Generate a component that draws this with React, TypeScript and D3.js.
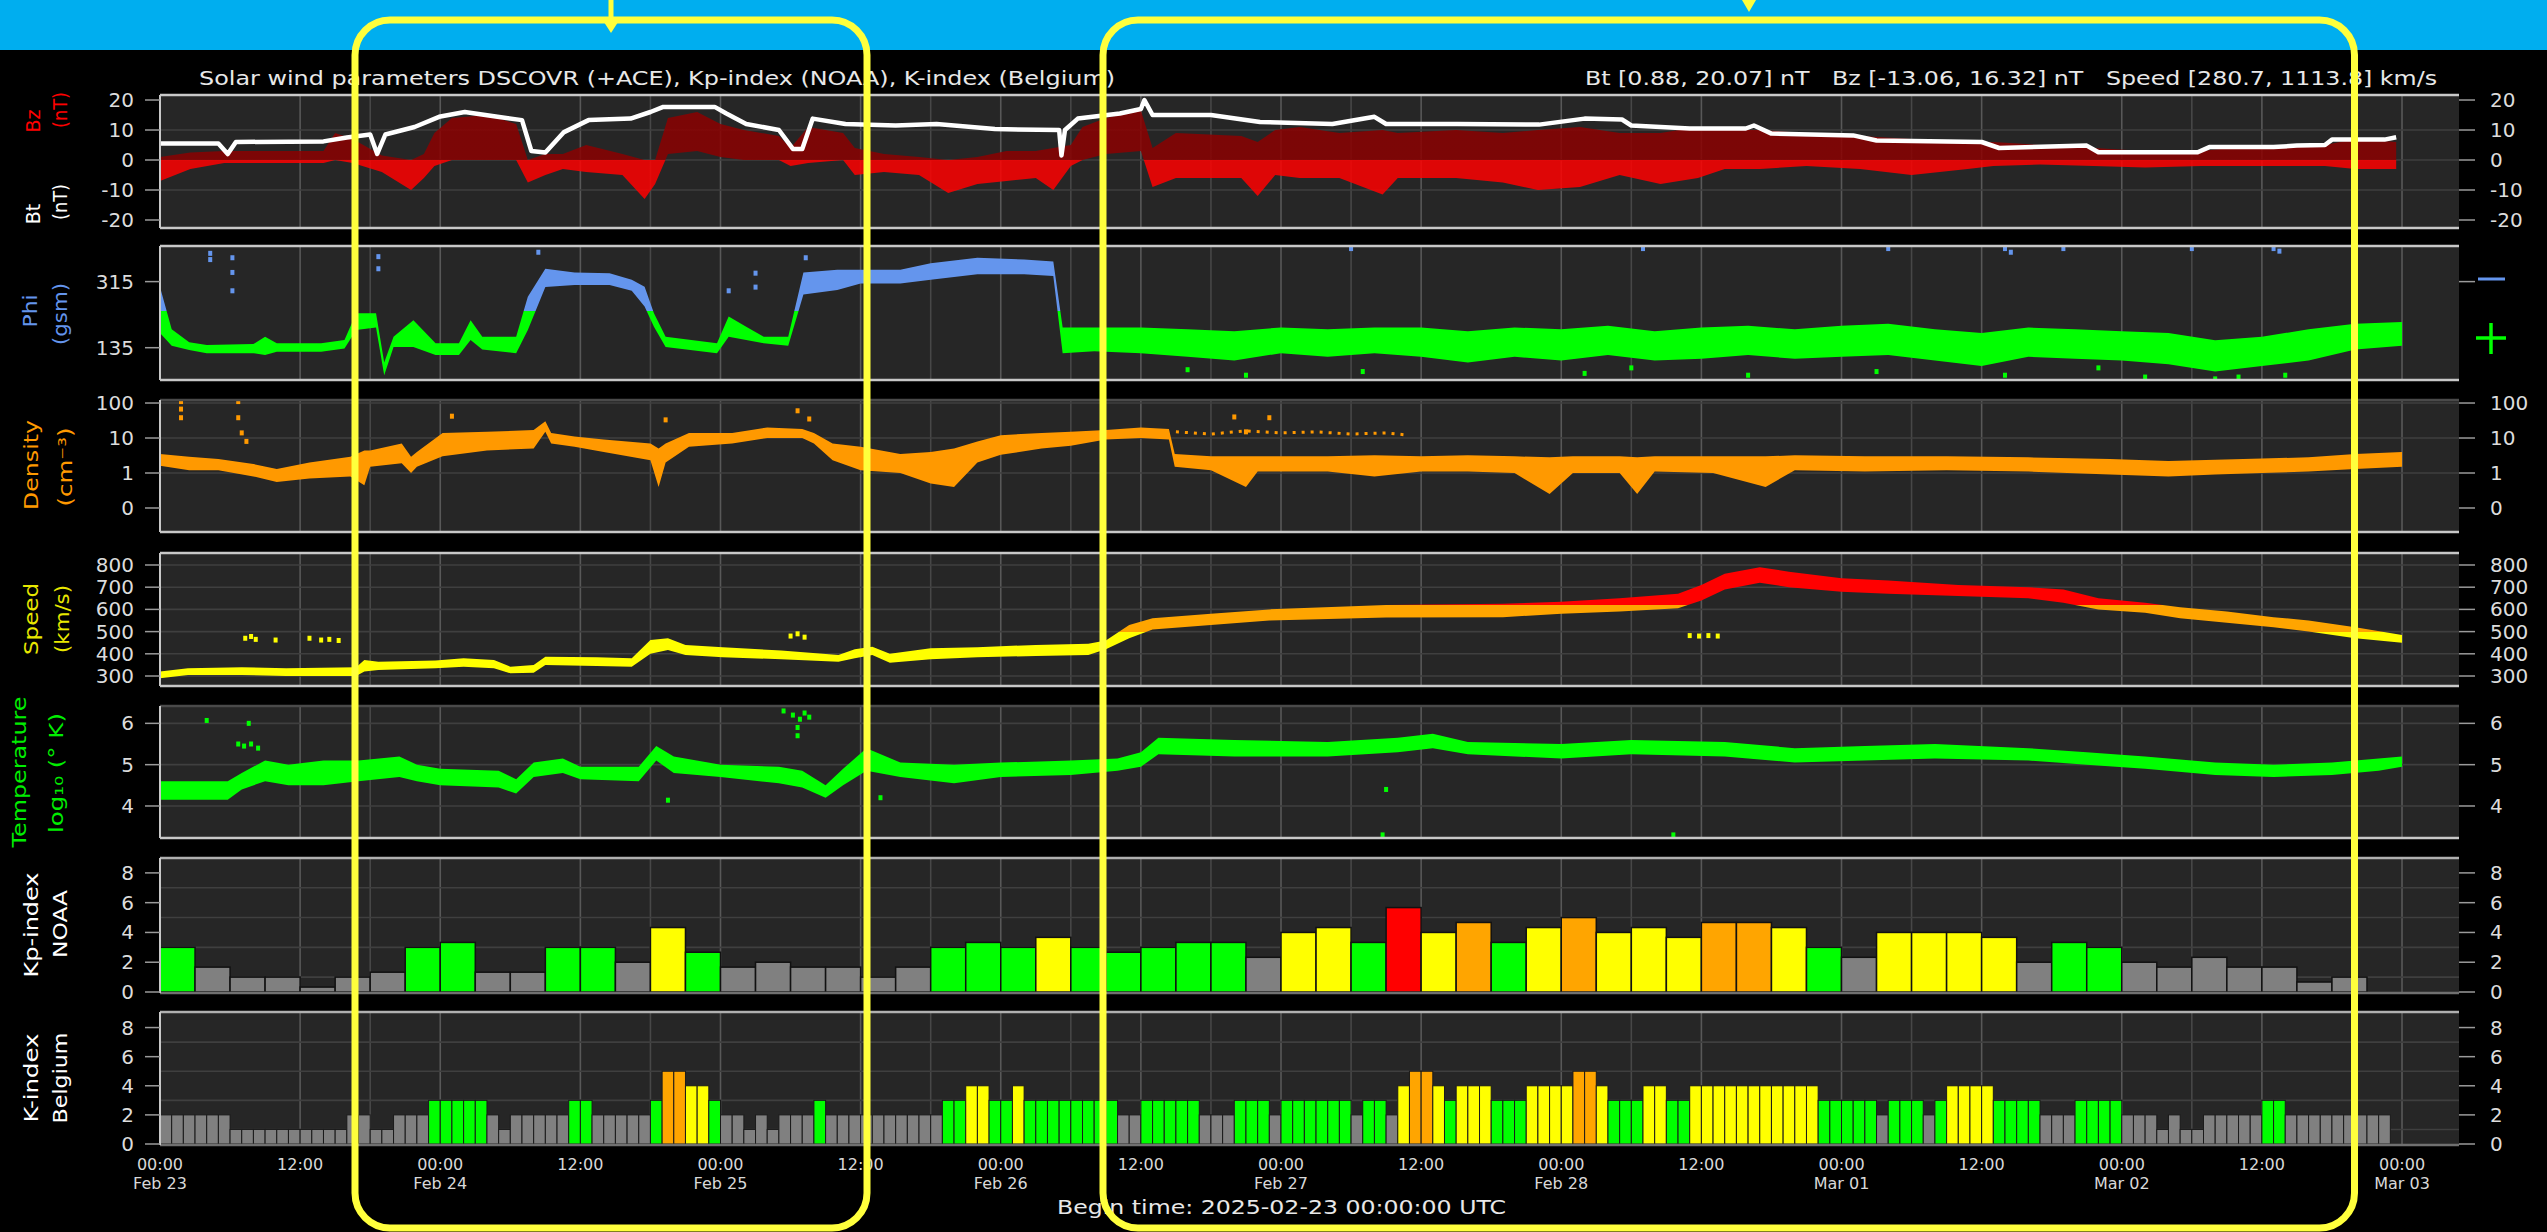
import React, { useEffect } from 'react';
import * as d3 from 'd3';

// ---------------- DATA (hours since 2025-02-23 00:00 UTC) ----------------
const BT_H = [0,5,5.8,6.5,14,16,18,18.6,19.3,21.8,23.9,26.1,28.9,31,31.8,33,34.6,36.7,40.3,42,43.1,47.5,48.5,50.2,53,54.2,55,55.9,58.7,63,66.5,71.5,77,77.2,77.5,78.6,82.2,84,84.3,85,90,94.2,100.4,104,105,111.1,118.1,122,125.2,126,131,135.8,136.5,138,145,147,156,157.5,165,166,174.5,175.5,181,183,185.4,186,190.5,191.5];
const BT_V = [5.5,5.5,2,6,6.2,7.5,8.5,2,8.5,11,14.4,16,14.4,13.3,3,2.5,9.3,13.3,13.8,16,17.7,17.7,15.5,12,10,3.7,3.7,13.8,12,11.5,12,10.3,10,1.5,10,13.8,15.5,17,20,15,15,12.7,12,14.4,12,12,11.8,13.8,13.5,11.5,10.5,10.5,11.5,8.8,8.2,6.5,6,4,4.8,2.6,2.6,4.3,4.3,4.8,5,6.8,6.8,7.6];

const BZ_H = [0,2.6,5.5,14,15,16.5,19,21.5,22.6,23.5,25,28,30.5,31.5,33,34.5,36.5,39.6,41.5,42.4,43.5,46,48,50,53,54,55.5,58.5,59.5,62,65,67.5,70,72.5,75,76.5,78,79,81,84,85,87,92.6,94,95.5,97.6,101,104.7,106,111,115,118,121.6,125,128.5,131.7,134,137,141,145.6,150,154.8,157,161,165.6,170,174.8,180,185.4,188,191.5];
const BZ_HI = [1,2.5,3,3,9,7,1.5,0,2,9,14,15,12,0,2,2,5,2,0,0,14,16,12,10,8,4,11,9,4,2,1,0,1,3,3,4,5,11,14,16.5,4,9,8,6,10,11,9,10,9,10,9,10,11,9,9,11,10,10,9,8,7,6,6,5,4,3,3,5,5,7,6];
const BZ_LO = [-7,-3,-1,-1,0,-1,-4,-10,-6,-2,0,0,0,-7.5,-5,-3,-4,-5,-13,-8,2,3,1,0,0,-2,-1,0,-5,-4,-5,-11,-8,-7,-6,-10,-2,0,2,3,-9,-6,-6,-12,-5,-6,-6,-11.5,-6,-6,-7.5,-10,-9,-5,-8,-6,-3,-3,-2,-3,-5,-3,-2,-1.5,-2,-2.5,-2,-2,-2,-3,-3];

const PHI_H = [0,1,2.5,4,8,9,10,13.8,15.8,16.8,18.5,19.2,20,21.7,23.6,25.6,26.6,27.6,30.5,31.5,33,35.5,38.5,40.4,41.5,42.3,43.3,47.7,48.7,50.2,51.7,53.8,55.1,58,60,63.4,66,70,74,76.5,77.3,80,84,88,92,96,100,104,108,112,116,120,124,128,132,136,140,144,148,152,156,160,164,168,172,176,180,184,188,192];
const PHI_LO = [175,140,129,120,120,115,124,124,133,183,190,60,137,137,115,115,156,130,120,183,300,306,306,290,247,192,137,120,165,156,147,140,280,292,310,310,320,335,335,330,120,125,120,110,100,120,110,120,110,95,110,100,115,100,105,115,105,110,115,100,85,110,105,100,90,70,85,100,130,140];
const PHI_HI = [300,185,150,142,145,165,147,147,156,229,229,95,165,210,147,147,210,165,165,274,350,340,338,320,301,229,165,147,220,192,165,165,340,347,347,347,365,380,375,370,190,190,190,185,180,190,185,190,190,180,190,185,195,180,190,195,185,195,200,185,175,190,185,180,175,155,165,185,200,205];
// isolated phi points
const PHI_DOT_H = [4.3,4.3,6.2,6.2,6.2,18.7,18.7,32.4,55.3,51,51,48.7,102,127,148,158,158.5,163,174,181,181.5,88,93,103,122,126,136,147,158,166,170,176,178,182];
const PHI_DOT_V = [392,375,380,340,290,383,350,395,380,338,300,290,405,405,405,405,395,405,405,405,398,75,60,70,65,80,60,70,60,80,55,50,55,60];

const DENS_H = [0,2.5,5,8,10,12.8,16.3,17.5,18,20.7,21.5,22,24.2,28,32,33,33.5,35.5,38,42,42.7,43.3,45.3,49,52,55,56,57.6,60,63.4,66,68,70,72,75.5,78,81,84,86.4,86.9,90,93,94,100,104,108,112,116,119,121,125,126.5,128,133,137.5,140,146,153,160,167,172,176,180,184,188,192];
const DENS_LO = [1.6,1.2,1.2,0.8,0.55,0.7,0.8,0.45,1.5,1.9,1,1.5,3,4.4,5,15,7,5.6,4,2.3,0.4,2,5.6,7,10,10,7,2.3,1.2,1,0.5,0.4,2,3.3,5,6,9,10,9,1.5,1.2,0.4,1.1,1.1,0.8,1.1,1.1,1,0.25,1,1,0.25,1.1,1,0.4,1.2,1.1,1.2,1.1,0.9,0.8,0.9,1,1.1,1.3,1.5];
const DENS_HI = [3.5,2.9,2.5,1.8,1.3,2,2.9,4.4,4.4,7,2.9,4,14,15,17,30,14,11,9,7,5,7,14,14,20,18,14,7,5.6,3.5,4,5,8,12,14,15,17,20,18,3.5,3,3,3,3,3.2,3,3.2,3,2.8,3,3,2.8,3,3,3,3.2,3,3,2.8,2.5,2.2,2.4,2.6,2.8,3.5,4];
// sparse upper density points (ACE) Feb 26-27
const DENS_UP_H = [87,90,93,96,99,102,105,107];
const DENS_UP = [15,13,16,14,15,13,14,12];
const DENS_DOT_H = [1.8,1.8,1.8,6.7,6.7,7.0,7.4,25,43.3,54.6,55.6,92,93,95];
const DENS_DOT_V = [110,67,38,110,38,14,8,42,33,60,35,40,15,38];

const SPEED_H = [0,2.4,7,10.8,16.8,17.5,18.7,23.6,26,28.6,30,32,33,37.4,40.4,42,43.5,45,48.2,53.2,58.1,59.5,61,62.5,66,70,75,79.5,81,83,85,90,95,105,115,120,125,130,132,134,137,139.5,144,148,154,160,163,166,170,173,177,181,184,188,192];
const SPEED_LO = [290,305,305,300,300,320,327,335,342,335,312,315,350,345,342,400,417,395,385,375,364,380,395,360,375,385,390,395,420,470,510,530,550,564,565,580,590,605,640,690,720,700,680,670,660,650,630,600,585,560,540,520,500,470,450];
const SPEED_HI = [320,335,340,335,340,372,364,370,380,372,342,350,387,385,380,462,470,440,430,415,395,420,432,400,425,430,440,445,460,530,560,580,600,620,625,635,650,670,710,760,790,770,740,730,710,700,690,650,630,610,590,565,550,520,485];
const SPEED_DOT_H = [7.3,7.8,8.2,9.9,12.8,13.8,14.5,15.3,54.0,54.6,55.2,131,131.8,132.6,133.4];
const SPEED_DOT_V = [470,478,465,462,470,462,465,460,480,490,475,482,480,482,480];

const TEMP_H = [0,5.8,7,9,11,14,17,20.5,22,24,29,30.5,32,34.5,36,41,42.5,44,48,53,55,57,58.5,60.5,63.4,68,72,78,82,84,85.5,92,100,106,109,112,120,126,134,140,146,152,160,165,170,176,181,186,190,192];
const TEMP_LO = [4.15,4.15,4.4,4.6,4.5,4.5,4.6,4.7,4.6,4.5,4.45,4.3,4.7,4.8,4.65,4.6,5.1,4.8,4.7,4.55,4.45,4.2,4.5,4.85,4.7,4.55,4.7,4.75,4.85,4.95,5.25,5.2,5.2,5.3,5.4,5.25,5.15,5.25,5.2,5.05,5.1,5.15,5.1,5.0,4.9,4.75,4.7,4.75,4.85,4.95];
const TEMP_HI = [4.6,4.6,4.8,5.1,5.0,5.1,5.1,5.2,5.0,4.9,4.85,4.65,5.05,5.15,4.95,4.95,5.45,5.2,5.0,4.95,4.85,4.5,4.9,5.4,5.05,5.0,5.05,5.1,5.15,5.3,5.65,5.6,5.55,5.65,5.75,5.55,5.5,5.6,5.55,5.4,5.45,5.5,5.4,5.3,5.2,5.05,5.0,5.05,5.15,5.2];
const TEMP_DOT_H = [4.0,7.6,6.7,7.2,7.8,8.4,53.4,54.2,54.8,55.2,55.6,54.6,54.6,43.5,61.7,104.7,129.6,105];
const TEMP_DOT_V = [6.07,6.0,5.5,5.45,5.5,5.4,6.3,6.2,6.1,6.25,6.15,5.9,5.7,4.14,4.2,3.3,3.3,4.4];

// Kp (NOAA), 3-hourly from Feb 23 00:00
const KP = [3,1.67,1,1,0.33,1,1.33,3,3.33,1.33,1.33,3,3,2,4.33,2.67,1.67,2,1.67,1.67,1,1.67,3,3.33,3,3.67,3,2.67,3,3.33,3.33,2.33,4,4.33,3.33,5.67,4,4.67,3.33,4.33,5,4,4.33,3.67,4.67,4.67,4.33,3,2.33,4,4,4,3.67,2,3.33,3,2,1.67,2.33,1.67,1.67,0.67,1,0];
// K-index (Belgium), hourly from Feb 23 00:00
const K_BEL = [
  2,2,2,2,2,2,1,1,1,1,1,1,1,1,1,1,2,2,1,1,2,2,2,3,
  3,3,3,3,2,1,2,2,2,2,2,3,3,2,2,2,2,2,3,5,5,4,4,3,
  2,2,1,2,1,2,2,2,3,2,2,2,2,2,2,2,2,2,2,3,3,4,4,3,
  3,4,3,3,3,3,3,3,3,3,2,2,3,3,3,3,3,2,2,2,3,3,3,2,
  3,3,3,3,3,3,2,3,3,2,4,5,5,4,3,4,4,4,3,3,3,4,4,4,
  4,5,5,4,3,3,3,4,4,3,3,4,4,4,4,4,4,4,4,4,4,4,3,3,
  3,3,3,2,3,3,3,2,3,4,4,4,4,3,3,3,3,2,2,2,3,3,3,3,
  2,2,2,1,2,1,1,2,2,2,2,2,3,3,2,2,2,2,2,2,2,2,2
];

const GRID_HOURS = [12,18,24,36,42,48,60,66,72,78,84,90,96,102,108,120,126,132,144,150,156,168,174,180,192];
const XLABEL_HOURS = d3.range(0, 193, 12);

const BZ_TICKS = [20, 10, 0, -10, -20];
const PHI_TICKS = [315, 135];
const DENS_TICKS = [100, 10, 1, 0.1];
const DENS_LABELS = ['100', '10', '1', '0'];
const SPEED_TICKS = [800, 700, 600, 500, 400, 300];
const TEMP_TICKS = [6, 5, 4];
const K_TICKS = [8, 6, 4, 2, 0];
const K_MINOR = [1, 3, 5, 7];

const TITLE = 'Solar wind parameters DSCOVR (+ACE), Kp-index (NOAA), K-index (Belgium)';
const STATS = 'Bt [0.88, 20.07] nT   Bz [-13.06, 16.32] nT   Speed [280.7, 1113.8] km/s';
const BEGIN = 'Begin time: 2025-02-23 00:00:00 UTC';

// ---------------- LAYOUT ----------------
const W = 2547, H = 1232;
const T0 = Date.UTC(2025, 1, 23);
const HOUR = 3600 * 1000;
const tAt = (h: number) => new Date(T0 + h * HOUR);
const XL = 160, XR = 2459;
const FONT = '"DejaVu Sans", Verdana, sans-serif';

const P = {
  bz: { top: 95, bottom: 228, topCol: '#c8c8c8' },
  phi: { top: 246, bottom: 380, topCol: '#c8c8c8' },
  dens: { top: 400, bottom: 532, topCol: '#4a4a4a' },
  speed: { top: 553, bottom: 686, topCol: '#c8c8c8' },
  temp: { top: 706, bottom: 838, topCol: '#4a4a4a' },
  kp: { top: 858, bottom: 993, topCol: '#b0b0b0' },
  k: { top: 1012, bottom: 1145, topCol: '#b0b0b0' },
};

const x = d3.scaleUtc().domain([tAt(0), tAt(196.88)]).range([XL, XR]);
const yBz = d3.scaleLinear().domain([-22.67, 21.67]).range([228, 95]);
const yPhi = d3.scaleLinear().domain([47, 412]).range([380, 246]);
const yDens = d3.scaleLog().domain([0.0206, 122]).range([532, 400]);
const ySpeed = d3.scaleLinear().domain([255, 854]).range([686, 553]);
const yTemp = d3.scaleLinear().domain([3.225, 6.42]).range([838, 706]);
const yKp = d3.scaleLinear().domain([0, 9]).range([992, 858]);
const yK = d3.scaleLinear().domain([0, 9]).range([1144, 1013]);

const kpColor = (v: number) => v < 2.5 ? '#808080' : v < 3.5 ? '#00ff00' : v < 4.5 ? '#ffff00' : v < 5.5 ? '#ffa500' : '#ff0000';
const kColor = (v: number) => v <= 2 ? '#808080' : v === 3 ? '#00ff00' : v === 4 ? '#ffff00' : v === 5 ? '#ffa500' : '#ff0000';

function band(hours: number[], lo: number[], hi: number[], y: (v: number) => number) {
  return d3.area<number>()
    .x((h) => x(tAt(h)))
    .y0((_, i) => y(lo[i]))
    .y1((_, i) => y(hi[i]))(hours) || '';
}
function line(hours: number[], v: number[], y: (v: number) => number) {
  return d3.line<number>().x((h) => x(tAt(h))).y((_, i) => y(v[i]))(hours) || '';
}
function Dots({ hours, vals, y, fill }: { hours: number[]; vals: number[]; y: (v: number) => number; fill: string }) {
  return (
    <g fill={fill}>
      {hours.map((h, i) => (
        <rect key={i} x={x(tAt(h)) - 2} y={y(vals[i]) - 2.5} width={4} height={5} />
      ))}
    </g>
  );
}

function Frame({ p, hLines }: { p: any; hLines: number[] }) {
  return (
    <g>
      <rect x={XL} y={p.top} width={XR - XL} height={p.bottom - p.top} fill="#262626" />
      {GRID_HOURS.map((h) => (
        <line key={h} x1={x(tAt(h))} x2={x(tAt(h))} y1={p.top} y2={p.bottom}
          stroke={h % 12 === 0 ? '#585858' : '#474747'} strokeWidth={1.6} />
      ))}
      {hLines.map((yy, i) => (
        <line key={'h' + i} x1={XL} x2={XR} y1={yy} y2={yy} stroke="#3f3f3f" strokeWidth={1.6} />
      ))}
    </g>
  );
}
function Border({ p, bottomCol = '#c8c8c8' }: { p: any; bottomCol?: string }) {
  return (
    <g>
      <line x1={XL} x2={XR} y1={p.top} y2={p.top} stroke={p.topCol} strokeWidth={2.5} />
      <line x1={XL} x2={XR} y1={p.bottom} y2={p.bottom} stroke={bottomCol} strokeWidth={2.5} />
      <line x1={XL} x2={XL} y1={p.top} y2={p.bottom} stroke="#c8c8c8" strokeWidth={2} />
    </g>
  );
}
function Ticks({ ys, labels, left = true, right = true }:
  { ys: number[]; labels: string[]; left?: boolean; right?: boolean }) {
  return (
    <g fontFamily={FONT} fontSize={20} fill="#dcdcdc">
      {ys.map((yy, i) => (
        <g key={i}>
          {left && <line x1={145} x2={XL} y1={yy} y2={yy} stroke="#9a9a9a" strokeWidth={1.5} />}
          {left && <text x={134} y={yy} textAnchor="end" dominantBaseline="central">{labels[i]}</text>}
          {right && <line x1={XR} x2={2475} y1={yy} y2={yy} stroke="#9a9a9a" strokeWidth={1.5} />}
          {right && <text x={2490} y={yy} textAnchor="start" dominantBaseline="central">{labels[i]}</text>}
        </g>
      ))}
    </g>
  );
}
function Grad({ id, top, bottom, stops }: { id: string; top: number; bottom: number; stops: [number, string][] }) {
  return (
    <linearGradient id={id} gradientUnits="userSpaceOnUse" x1={0} x2={0} y1={top} y2={bottom}>
      {stops.map(([o, c], i) => <stop key={i} offset={Math.max(0, Math.min(1, o))} stopColor={c} />)}
    </linearGradient>
  );
}
const frac = (p: any, yy: number) => (yy - p.top) / (p.bottom - p.top);

const SIDE_LABELS = [
  { t: 'Bz', x: 33, y: 121, c: '#ff0000' },
  { t: '(nT)', x: 60, y: 110, c: '#ff0000', len: 36 },
  { t: 'Bt', x: 33, y: 214, c: '#ffffff' },
  { t: '(nT)', x: 60, y: 202, c: '#ffffff', len: 36 },
  { t: 'Phi', x: 30, y: 311, c: '#6495ed', len: 33 },
  { t: '(gsm)', x: 60, y: 314, c: '#6495ed', len: 62 },
  { t: 'Density', x: 31, y: 465, c: '#ff9900', len: 90 },
  { t: '(cm⁻³)', x: 65, y: 467, c: '#ff9900', len: 79 },
  { t: 'Speed', x: 31, y: 619, c: '#e8e800', len: 72 },
  { t: '(km/s)', x: 62, y: 619, c: '#e8e800', len: 68 },
  { t: 'Temperature', x: 19, y: 772, c: '#00ee00', len: 151 },
  { t: 'log₁₀ (° K)', x: 56, y: 773, c: '#00ee00', len: 120 },
  { t: 'Kp-index', x: 31, y: 925, c: '#ffffff', len: 105 },
  { t: 'NOAA', x: 60, y: 924, c: '#ffffff', len: 68 },
  { t: 'K-index', x: 31, y: 1078, c: '#ffffff', len: 89 },
  { t: 'Belgium', x: 60, y: 1078, c: '#ffffff', len: 91 },
];

export default function App() {
  useEffect(() => {
    document.body.style.margin = '0';
    document.body.style.background = '#000';
  }, []);
  const fmtDate = d3.utcFormat('%b %d');

  return (
    <svg width={W} height={H} style={{ display: 'block', position: 'absolute', left: 0, top: 0 }}
      fontFamily={FONT}>
      <defs>
        <Grad id="gBz" top={P.bz.top} bottom={P.bz.bottom}
          stops={[[0, '#8b0000'], [frac(P.bz, yBz(0)), '#8b0000'], [frac(P.bz, yBz(0)), '#ff0000'], [1, '#ff0000']]} />
        <Grad id="gPhi" top={P.phi.top} bottom={P.phi.bottom}
          stops={[[0, '#6495ed'], [frac(P.phi, yPhi(235)), '#6495ed'], [frac(P.phi, yPhi(235)), '#00ff00'], [1, '#00ff00']]} />
        <Grad id="gSpeed" top={P.speed.top} bottom={P.speed.bottom}
          stops={[[0, '#ff0000'], [frac(P.speed, ySpeed(620)), '#ff0000'], [frac(P.speed, ySpeed(620)), '#ffa500'],
            [frac(P.speed, ySpeed(500)), '#ffa500'], [frac(P.speed, ySpeed(500)), '#ffff00'], [1, '#ffff00']]} />
        {Object.entries(P).map(([k, p]) => (
          <clipPath key={k} id={'clip-' + k}>
            <rect x={XL} y={p.top} width={XR - XL} height={p.bottom - p.top} />
          </clipPath>
        ))}
      </defs>

      <rect x={0} y={0} width={W} height={H} fill="#000" />
      <rect x={0} y={0} width={W} height={50} fill="#00aeef" />

      <text x={199} y={85} fontSize={19} fill="#e8e8e8" textLength={916} lengthAdjust="spacingAndGlyphs">{TITLE}</text>
      <text x={1585} y={85} fontSize={19} fill="#e8e8e8" textLength={852} lengthAdjust="spacingAndGlyphs" style={{ whiteSpace: 'pre' }}>{STATS}</text>

      {/* Bz / Bt */}
      <Frame p={P.bz} hLines={[10, 0, -10].map(yBz)} />
      <g clipPath="url(#clip-bz)">
        <path d={band(BZ_H, BZ_LO, BZ_HI, yBz)} fill="url(#gBz)" opacity={0.85} />
        <path d={line(BT_H, BT_V, yBz)} fill="none" stroke="#ffffff" strokeWidth={4.5} strokeLinejoin="round" />
      </g>
      <Border p={P.bz} />
      <Ticks ys={BZ_TICKS.map(yBz)} labels={BZ_TICKS.map(String)} />

      {/* Phi */}
      <Frame p={P.phi} hLines={[]} />
      <g clipPath="url(#clip-phi)">
        <path d={band(PHI_H, PHI_LO, PHI_HI, yPhi)} fill="url(#gPhi)" />
        <Dots hours={PHI_DOT_H} vals={PHI_DOT_V} y={yPhi} fill="url(#gPhi)" />
      </g>
      <Border p={P.phi} />
      <Ticks ys={PHI_TICKS.map(yPhi)} labels={PHI_TICKS.map(String)} right={false} />
      <line x1={XR} x2={2475} y1={yPhi(315)} y2={yPhi(315)} stroke="#9a9a9a" strokeWidth={1.5} />
      <line x1={2478} x2={2505} y1={279} y2={279} stroke="#6495ed" strokeWidth={3} />
      <line x1={2476} x2={2506} y1={338} y2={338} stroke="#00ff00" strokeWidth={3.5} />
      <line x1={2491} x2={2491} y1={323} y2={354} stroke="#00ff00" strokeWidth={3.5} />

      {/* Density */}
      <Frame p={P.dens} hLines={[100, 10, 1].map(yDens)} />
      <g clipPath="url(#clip-dens)">
        <path d={band(DENS_H, DENS_LO, DENS_HI, yDens)} fill="#ff9900" />
        <path d={line(DENS_UP_H, DENS_UP, yDens)} fill="none" stroke="#ff9900" strokeWidth={3} strokeDasharray="3 6" />
        <Dots hours={DENS_DOT_H} vals={DENS_DOT_V} y={yDens} fill="#ff9900" />
      </g>
      <Border p={P.dens} />
      <Ticks ys={DENS_TICKS.map(yDens)} labels={DENS_LABELS} />

      {/* Speed */}
      <Frame p={P.speed} hLines={SPEED_TICKS.map(ySpeed)} />
      <g clipPath="url(#clip-speed)">
        <path d={band(SPEED_H, SPEED_LO, SPEED_HI, ySpeed)} fill="url(#gSpeed)" />
        <Dots hours={SPEED_DOT_H} vals={SPEED_DOT_V} y={ySpeed} fill="#ffff00" />
      </g>
      <Border p={P.speed} />
      <Ticks ys={SPEED_TICKS.map(ySpeed)} labels={SPEED_TICKS.map(String)} />

      {/* Temperature */}
      <Frame p={P.temp} hLines={TEMP_TICKS.map(yTemp)} />
      <g clipPath="url(#clip-temp)">
        <path d={band(TEMP_H, TEMP_LO, TEMP_HI, yTemp)} fill="#00ff00" />
        <Dots hours={TEMP_DOT_H} vals={TEMP_DOT_V} y={yTemp} fill="#00ff00" />
      </g>
      <Border p={P.temp} />
      <Ticks ys={TEMP_TICKS.map(yTemp)} labels={TEMP_TICKS.map(String)} />

      {/* Kp */}
      <Frame p={P.kp} hLines={K_MINOR.map(yKp)} />
      <g clipPath="url(#clip-kp)">
        {KP.map((v, i) => (
          <rect key={i} x={x(tAt(i * 3))} y={yKp(v)} width={x(tAt(i * 3 + 3)) - x(tAt(i * 3))}
            height={Math.max(0, yKp(0) - yKp(v))} fill={v === 0 ? '#1a1a1a' : kpColor(v)} stroke="#111" strokeWidth={1.5} />
        ))}
      </g>
      <Border p={P.kp} bottomCol="#707070" />
      <Ticks ys={K_TICKS.map(yKp)} labels={K_TICKS.map(String)} />

      {/* K Belgium */}
      <Frame p={P.k} hLines={K_MINOR.map(yK)} />
      <g clipPath="url(#clip-k)">
        {K_BEL.map((v, i) => (
          <rect key={i} x={x(tAt(i))} y={yK(v)} width={x(tAt(i + 1)) - x(tAt(i))}
            height={yK(0) - yK(v)} fill={kColor(v)} stroke="#1a1a1a" strokeWidth={1} />
        ))}
      </g>
      <Border p={P.k} bottomCol="#707070" />
      <Ticks ys={K_TICKS.map(yK)} labels={K_TICKS.map(String)} />

      {SIDE_LABELS.map((l, i) => (
        <text key={i} transform={`translate(${l.x},${l.y}) rotate(-90)`} textAnchor="middle"
          dominantBaseline="central" fontSize={19} fill={l.c}
          {...(l.len ? { textLength: l.len, lengthAdjust: 'spacingAndGlyphs' } : {})}>{l.t}</text>
      ))}

      <g fontSize={16} fill="#d8d8d8" textAnchor="middle">
        {XLABEL_HOURS.map((h) => (
          <g key={h}>
            <text x={x(tAt(h))} y={1170}>{h % 24 === 0 ? '00:00' : '12:00'}</text>
            {h % 24 === 0 && <text x={x(tAt(h))} y={1189}>{fmtDate(tAt(h))}</text>}
          </g>
        ))}
      </g>
      <text x={1057} y={1214} fontSize={19} fill="#e8e8e8" textLength={449} lengthAdjust="spacingAndGlyphs">{BEGIN}</text>

      <g stroke="#ffff3c" fill="none" strokeWidth={7}>
        <rect x={355} y={20} width={512} height={1208} rx={35} ry={35} />
        <rect x={1103} y={20} width={1251.5} height={1208} rx={35} ry={35} />
        <line x1={611} x2={611} y1={0} y2={22} strokeWidth={5} />
      </g>
      <polygon points="602,19 620,19 611,33" fill="#ffff3c" />
      <polygon points="1742,0 1756,0 1749,12" fill="#ffff3c" />
    </svg>
  );
}
